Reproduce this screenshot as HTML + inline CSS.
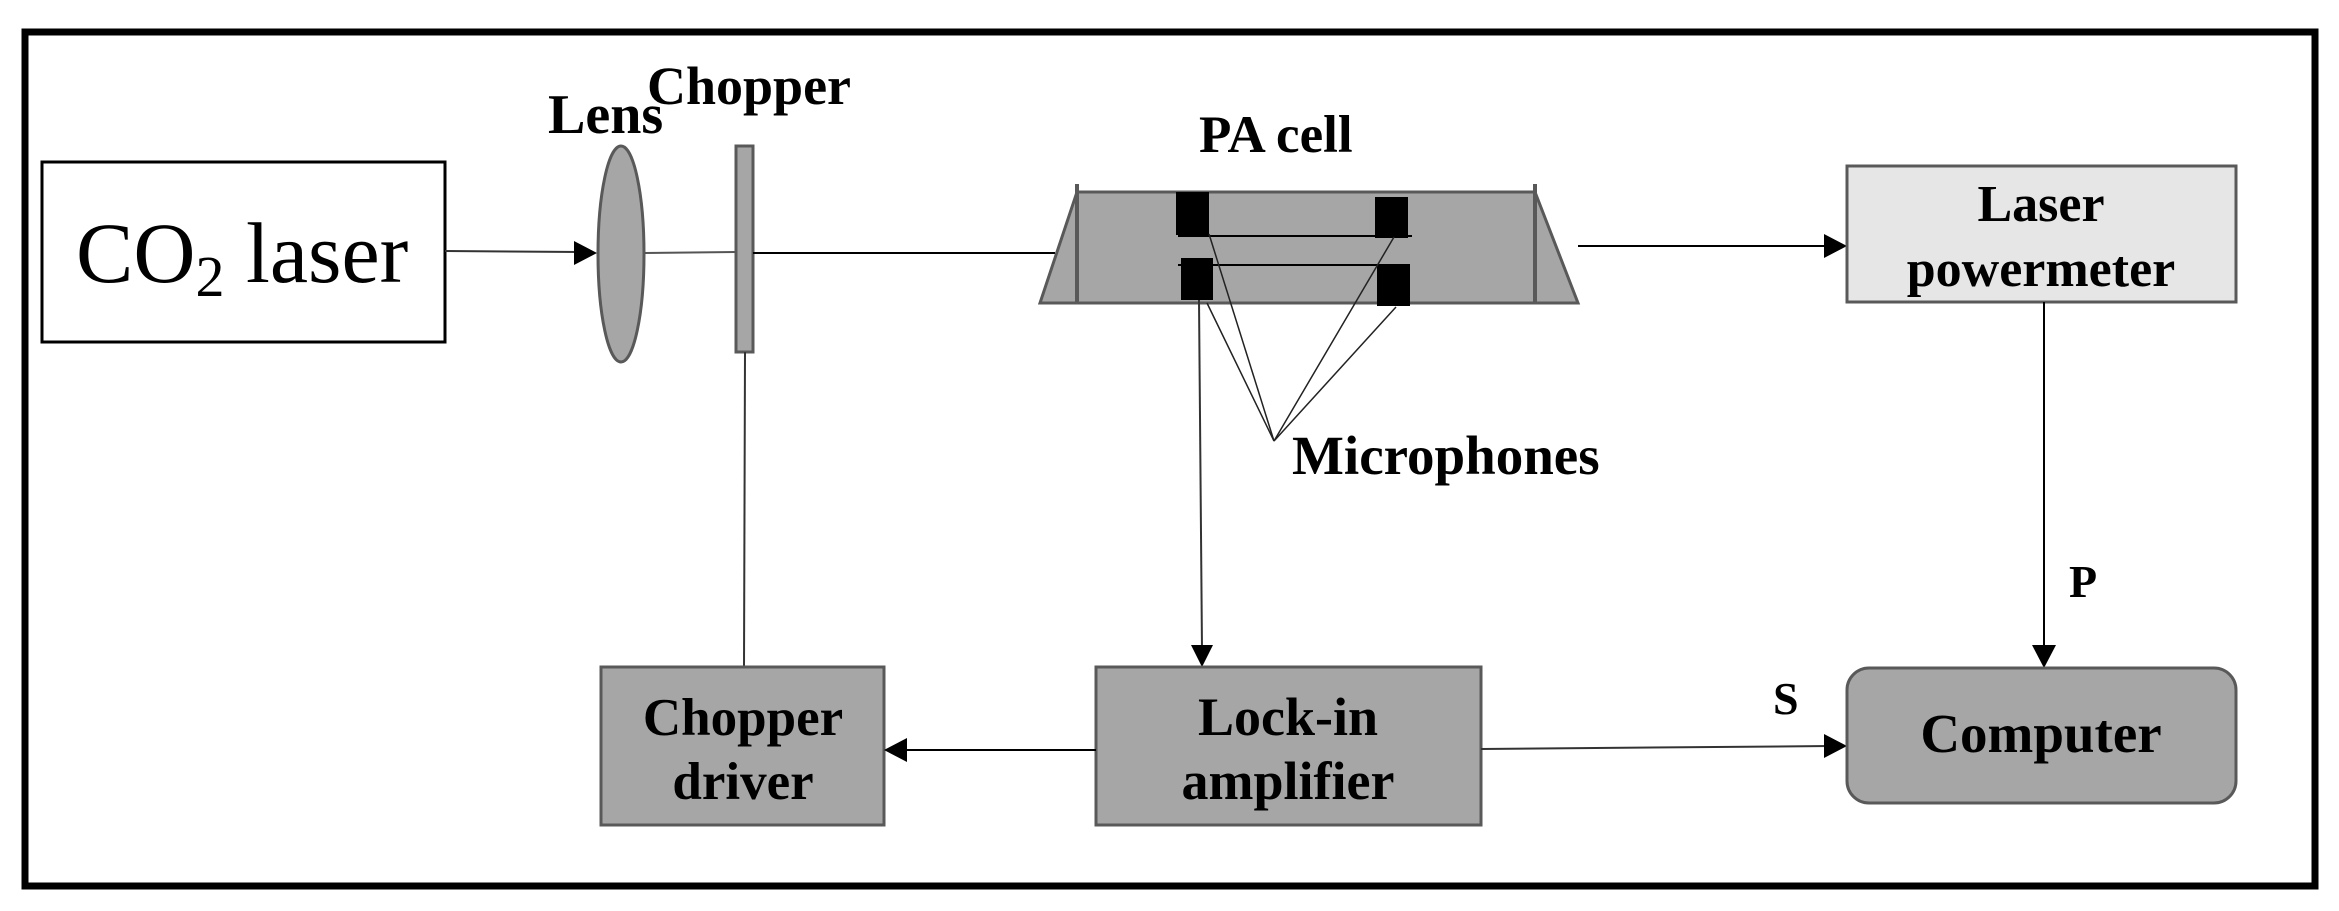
<!DOCTYPE html>
<html><head><meta charset="utf-8"><style>
html,body{margin:0;padding:0;background:#fff;}
svg{display:block;}
text{font-family:"Liberation Serif",serif;font-weight:bold;fill:#000;}
</style></head><body>
<svg width="2339" height="911" viewBox="0 0 2339 911" xmlns="http://www.w3.org/2000/svg">
<rect x="25" y="32" width="2290" height="854" fill="#fff" stroke="#000" stroke-width="7"/>
<!-- CO2 laser -->
<rect x="42" y="162" width="403" height="180" fill="#fff" stroke="#000" stroke-width="3"/>
<text x="76" y="282" font-size="86" style="font-weight:normal">CO<tspan font-size="58" dy="14">2</tspan><tspan dy="-14"> laser</tspan></text>
<!-- beam -->
<line x1="445" y1="251" x2="580" y2="252" stroke="#333" stroke-width="2"/>
<polygon points="597,253 574,241 574,265" fill="#000"/>
<ellipse cx="621" cy="254" rx="23" ry="108" fill="#a6a6a6" stroke="#595959" stroke-width="3"/>
<line x1="645" y1="253" x2="736" y2="252" stroke="#555" stroke-width="2"/>
<rect x="736" y="146" width="17" height="206" fill="#a6a6a6" stroke="#595959" stroke-width="3"/>
<line x1="753" y1="253" x2="1055" y2="253" stroke="#000" stroke-width="2"/>
<line x1="745" y1="352" x2="744" y2="667" stroke="#333" stroke-width="2"/>
<text x="548" y="133" font-size="56">Lens</text>
<text x="647" y="104" font-size="54">Chopper</text>
<!-- PA cell -->
<text x="1199" y="152" font-size="53">PA cell</text>
<polygon points="1077,192 1535,192 1578,303 1040,303" fill="#a6a6a6" stroke="#595959" stroke-width="3"/>
<line x1="1077" y1="184" x2="1077" y2="303" stroke="#595959" stroke-width="4"/>
<line x1="1535" y1="184" x2="1535" y2="303" stroke="#595959" stroke-width="4"/>
<line x1="1578" y1="246" x2="1830" y2="246" stroke="#000" stroke-width="2"/>
<polygon points="1847,246 1824,234 1824,258" fill="#000"/>
<rect x="1176" y="192" width="33" height="43" fill="#000"/>
<rect x="1375" y="197" width="33" height="41" fill="#000"/>
<rect x="1181" y="258" width="32" height="42" fill="#000"/>
<rect x="1377" y="264" width="33" height="42" fill="#000"/>
<line x1="1178" y1="236" x2="1412" y2="236" stroke="#000" stroke-width="2"/>
<line x1="1178" y1="265" x2="1410" y2="265" stroke="#000" stroke-width="2"/>
<g stroke="#222" stroke-width="1.5">
<line x1="1209" y1="234" x2="1274" y2="441"/>
<line x1="1207" y1="303" x2="1274" y2="441"/>
<line x1="1394" y1="237" x2="1274" y2="441"/>
<line x1="1396" y1="307" x2="1274" y2="441"/>
</g>
<text x="1292" y="474" font-size="55">Microphones</text>
<line x1="1199" y1="300" x2="1202" y2="650" stroke="#333" stroke-width="2"/>
<polygon points="1202,667 1191,645 1213,645" fill="#000"/>
<!-- bottom boxes -->
<rect x="601" y="667" width="283" height="158" fill="#a6a6a6" stroke="#595959" stroke-width="3"/>
<text x="743" y="735" font-size="53" text-anchor="middle">Chopper</text>
<text x="743" y="799" font-size="53" text-anchor="middle">driver</text>
<rect x="1096" y="667" width="385" height="158" fill="#a6a6a6" stroke="#595959" stroke-width="3"/>
<text x="1288" y="735" font-size="54" text-anchor="middle">Lock-in</text>
<text x="1288" y="799" font-size="54" text-anchor="middle">amplifier</text>
<line x1="1096" y1="750" x2="902" y2="750" stroke="#000" stroke-width="2"/>
<polygon points="884,750 907,738 907,762" fill="#000"/>
<line x1="1481" y1="749" x2="1830" y2="746" stroke="#333" stroke-width="2"/>
<polygon points="1847,746 1824,734 1824,758" fill="#000"/>
<text x="1773" y="714" font-size="46">S</text>
<rect x="1847" y="166" width="389" height="136" fill="#e6e6e6" stroke="#595959" stroke-width="3"/>
<text x="2041" y="221" font-size="52" text-anchor="middle">Laser</text>
<text x="2041" y="286" font-size="52" text-anchor="middle">powermeter</text>
<line x1="2044" y1="302" x2="2044" y2="650" stroke="#000" stroke-width="2"/>
<polygon points="2044,668 2032,645 2056,645" fill="#000"/>
<text x="2069" y="597" font-size="46">P</text>
<rect x="1847" y="668" width="389" height="135" rx="22" fill="#a6a6a6" stroke="#595959" stroke-width="3"/>
<text x="2041" y="752" font-size="55" text-anchor="middle">Computer</text>
</svg>
</body></html>
